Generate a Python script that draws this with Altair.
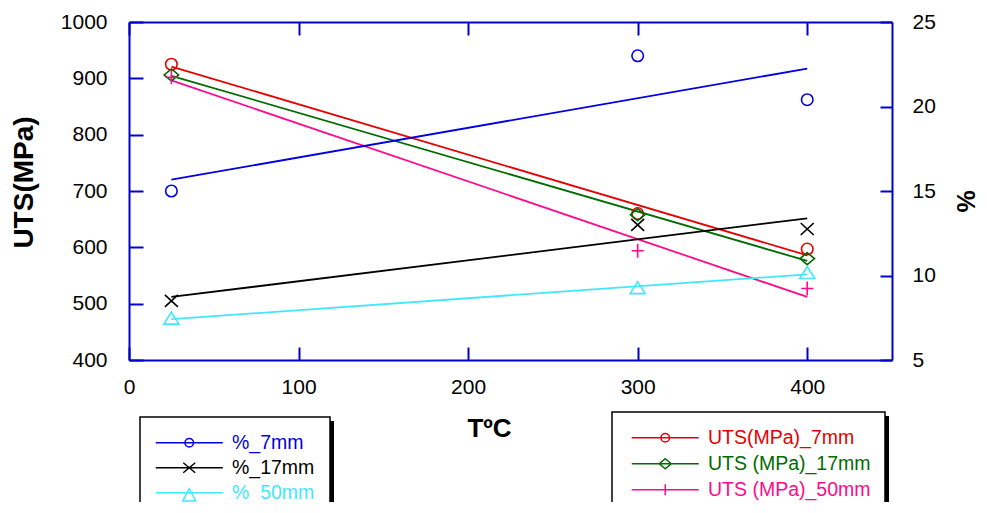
import altair as alt
import pandas as pd

# ---------------- data ----------------
temps = [25, 300, 400]
uts_series = ["UTS(MPa)_7mm", "UTS (MPa)_17mm", "UTS (MPa)_50mm"]
uts_7 = [925, 660, 597]
uts_17 = [906, 658, 580]
uts_50 = [902, 594, 527]
pct_series = ["%_7mm", "%_17mm", "%_50mm"]
pct_7 = [15.0, 23.0, 20.4]
pct_17 = [8.5, 13.0, 12.75]
pct_50 = [7.45, 9.25, 10.15]

x_ticks = [0, 100, 200, 300, 400]
uts_ticks = [400, 500, 600, 700, 800, 900, 1000]
pct_ticks = [5, 10, 15, 20, 25]

# ---------------- styles ----------------
uts_colors = ["#e60000", "#006b00", "#ff0a8c"]
pct_colors = ["#0000e0", "#000000", "#40e8ff"]
AX = "#0000cc"
FONT = "Liberation Sans"

P_CIRCLE = "M1.15,0A1.15,1.15,0,1,1,-1.15,0A1.15,1.15,0,1,1,1.15,0Z"
P_X = "M-1.3,-1.2L1.3,1.2M-1.3,1.2L1.3,-1.2"
P_TRI = "M0,-1.3L1.5,1.1L-1.5,1.1Z"
P_DIAM = "M0,-1.2L1.45,0L0,1.2L-1.45,0Z"
P_PLUS = "M-1.2,0H1.2M0,-1.4V1.4"
pct_shapes = [P_CIRCLE, P_X, P_TRI]
uts_shapes = [P_CIRCLE, P_DIAM, P_PLUS]

LINE = "M-6.7,0H6.7"
L_CIRCLE = LINE + "M0.85,0A0.85,0.85,0,1,1,-0.85,0A0.85,0.85,0,1,1,0.85,0Z"
L_X = LINE + "M-1.2,-1L1.2,1M-1.2,1L1.2,-1"
L_TRI = LINE + "M0,-0.8L1.3,1.65L-1.3,1.65Z"
L_DIAM = LINE + "M0,-1L1.2,0L0,1L-1.2,0Z"
L_PLUS = LINE + "M0,-1.1V1.1"
pct_legend_shapes = [L_CIRCLE, L_X, L_TRI]
uts_legend_shapes = [L_CIRCLE, L_DIAM, L_PLUS]


def ternary(names, vals):
    expr = f"'{vals[-1]}'"
    for n, v in reversed(list(zip(names[:-1], vals[:-1]))):
        expr = f"datum.value === '{n}' ? '{v}' : {expr}"
    return expr


uts_rows = []
for name, vals in zip(uts_series, [uts_7, uts_17, uts_50]):
    for t, v in zip(temps, vals):
        uts_rows.append({"series": name, "T": t, "v": v})
pct_rows = []
for name, vals in zip(pct_series, [pct_7, pct_17, pct_50]):
    for t, v in zip(temps, vals):
        pct_rows.append({"series": name, "T": t, "v": v})
uts_df = pd.DataFrame(uts_rows)
pct_df = pd.DataFrame(pct_rows)

xscale = alt.Scale(domain=[0, 450], nice=False, zero=False)
uts_y = alt.Scale(domain=[400, 1000], nice=False, zero=False)
pct_y = alt.Scale(domain=[5, 25], nice=False, zero=False)

common_axis = dict(
    domainColor=AX, domainWidth=2, tickColor=AX, tickWidth=2, grid=False,
    labelFont=FONT, labelFontSize=21, labelColor="black", format="d", labelFlush=False,
    titleFont=FONT, titleFontWeight="bold", titleColor="black",
)

bottom_axis = alt.Axis(
    orient="bottom", values=x_ticks, title="TºC", tickSize=alt.ExprRef(expr="-13"),
    labelPadding=29, titleFontSize=26, titleX=360, titleY=68,
    titleAlign="center", titleBaseline="middle", **common_axis)
top_axis = alt.Axis(
    orient="top", values=x_ticks, title="", labels=False,
    tickSize=alt.ExprRef(expr="-13"), **common_axis)
left_axis = alt.Axis(
    orient="left", values=uts_ticks, title="UTS(MPa)", tickSize=alt.ExprRef(expr="-14"),
    labelPadding=36, titleFontSize=28, titleAngle=270, titleX=-105, titleY=160,
    titleAlign="center", titleBaseline="middle", **common_axis)
right_axis = alt.Axis(
    orient="right", values=pct_ticks, title="%", tickSize=alt.ExprRef(expr="-12"),
    labelPadding=32, titleFontSize=25, titleAngle=270, titleX=74, titleY=179,
    titleAlign="center", titleBaseline="middle", **common_axis)


def make_legend(names, colors, shapes, lx, ly, rowpad):
    return alt.Legend(
        title=None, orient="none", legendX=lx, legendY=ly, padding=0,
        symbolType=alt.ExprRef(expr=ternary(names, shapes)),
        symbolSize=100, symbolStrokeWidth=1.5, symbolFillColor="transparent",
        symbolOffset=25.5, labelOffset=33, labelLimit=400,
        labelFont=FONT, labelFontSize=19.5,
        labelColor=alt.ExprRef(expr=ternary(names, colors)),
        rowPadding=rowpad,
    )


uts_legend = make_legend(uts_series, uts_colors, uts_legend_shapes, 501, 406, 5)
pct_legend = make_legend(pct_series, pct_colors, pct_legend_shapes, 25, 411, 4)


def lines_and_points(df, names, colors, shapes, yscale, yaxis, legend, x_line_axis, x_pt_axis):
    base = alt.Chart(df)
    keys = ["p:" + n for n in names]
    line = base.transform_regression("T", "v", groupby=["series"]).mark_line(strokeWidth=1.8).encode(
        x=alt.X("T:Q", scale=xscale, axis=x_line_axis),
        y=alt.Y("v:Q", scale=yscale, axis=yaxis),
        color=alt.Color("series:N", scale=alt.Scale(domain=names, range=colors), legend=legend),
    )
    pts = base.transform_calculate(mk="'p:' + datum.series").mark_point(
        filled=False, size=100, strokeWidth=1.6, opacity=1).encode(
        x=alt.X("T:Q", scale=xscale, axis=x_pt_axis),
        y=alt.Y("v:Q", scale=yscale, axis=yaxis),
        stroke=alt.Stroke("mk:N", scale=alt.Scale(domain=keys, range=colors), legend=None),
        shape=alt.Shape("mk:N", scale=alt.Scale(domain=keys, range=shapes), legend=None),
    )
    return alt.layer(line, pts)


uts_group = lines_and_points(uts_df, uts_series, uts_colors, uts_shapes, uts_y, left_axis,
                             uts_legend, top_axis, bottom_axis)
pct_group = lines_and_points(pct_df, pct_series, pct_colors, pct_shapes, pct_y, right_axis,
                             pct_legend, None, None)

# legend frames (decoration): shadow + white box
dummy = alt.Data(values=[{"k": 1}])


def box(x1, y1, x2, y2, fill, stroke=None):
    kw = dict(fill=fill)
    if stroke:
        kw.update(stroke=stroke, strokeWidth=1.5)
    return alt.Chart(dummy).mark_rect(**kw).encode(
        x=alt.value(x1), x2=alt.value(x2), y=alt.value(y1), y2=alt.value(y2))


frames = alt.layer(
    box(15, 399, 205, 500, "black"),
    box(11, 395, 201, 496, "white", "black"),
    box(487, 394, 760, 489, "black"),
    box(483, 390, 756, 485, "white", "black"),
)

chart = alt.layer(frames, uts_group, pct_group).resolve_scale(
    y="independent", color="independent", shape="independent", stroke="independent"
).properties(
    width=763, height=338,
    autosize=alt.AutoSizeParams(type="none"),
    padding={"left": 121, "top": 14, "right": 87, "bottom": 142},
).configure_view(stroke=None)

chart.save("out.html", embed_options={"renderer": "svg", "actions": False})
